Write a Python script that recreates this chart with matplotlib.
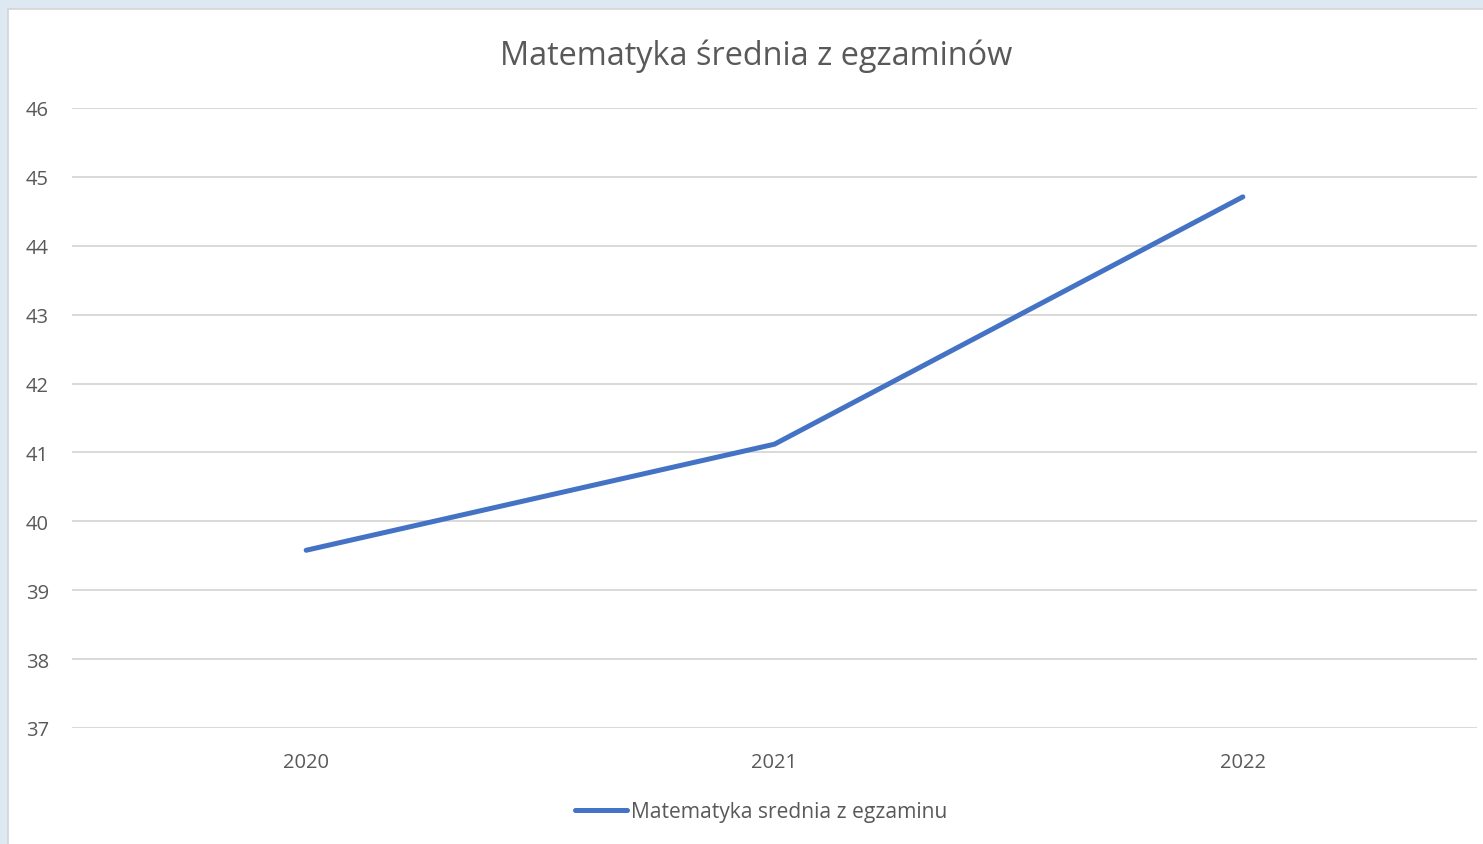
import matplotlib
matplotlib.use("Agg")
import matplotlib.pyplot as plt
from matplotlib.patches import Rectangle

years = ["2020", "2021", "2022"]
values = [39.58, 41.12, 44.71]
y_ticks = [37, 38, 39, 40, 41, 42, 43, 44, 45, 46]
title = "Matematyka średnia z egzaminów"
series_name = "Matematyka srednia z egzaminu"

plt.rcParams['font.family'] = ['Open Sans', 'DejaVu Sans']
txt = "#595959"

fig = plt.figure(figsize=(14.83, 8.45), dpi=100)
fig.patch.set_facecolor("#DEE8F3")
W, H = 1483, 845

bg = fig.add_axes([0, 0, 1, 1], zorder=0)
bg.set_axis_off()
bg.add_patch(Rectangle((8 / W, -0.01), 1.0, 1.01 - 10 / H, transform=bg.transAxes,
                       facecolor="white", edgecolor="#D4D4D4", linewidth=1.2))
bg.set_xlim(0, 1)
bg.set_ylim(0, 1)

ax = fig.add_axes([72 / W, 1 - 729 / H, (1477 - 72) / W, (729 - 109) / H], zorder=2)
ax.set_facecolor("none")
x = [i + 0.5 for i in range(len(years))]
ax.plot(x, values, color="#4472C4", linewidth=3.6, solid_capstyle="round",
        solid_joinstyle="round", label=series_name, zorder=3)
ax.set_xlim(0, 3)
ax.set_ylim(37, 46)
ax.set_yticks(y_ticks)
ax.set_xticks(x)
ax.set_xticklabels(years)
ax.grid(axis="y", color="#D9D9D9", linewidth=1.4)
ax.set_axisbelow(True)
for s in ax.spines.values():
    s.set_visible(False)
ax.tick_params(axis="both", length=0, labelsize=14.5, colors=txt)
ax.tick_params(axis="y", pad=16.5)
ax.tick_params(axis="x", pad=17.5)

fig.text(756 / W, 1 - 56 / H, title, ha="center", va="center", fontsize=23.4, color=txt)

fig.legend(loc="center", bbox_to_anchor=(761 / W, 1 - 813 / H), frameon=False,
           fontsize=15.1, handlelength=2.5, handletextpad=0.2, labelcolor=txt)

fig.savefig("out.png", dpi=100, facecolor=fig.get_facecolor())
